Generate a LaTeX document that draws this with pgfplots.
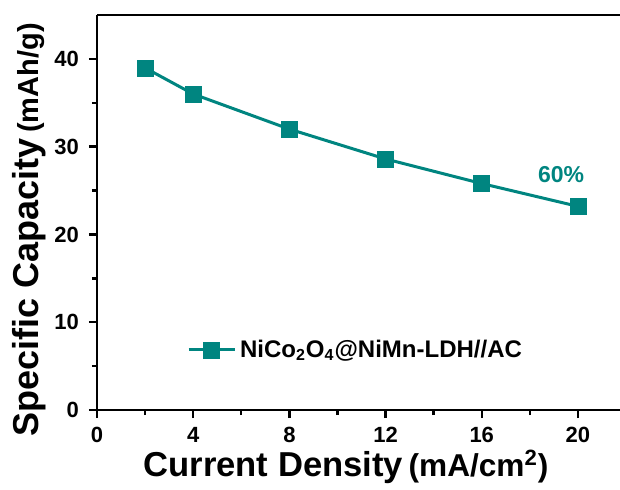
\documentclass[border=0pt]{standalone}
\usepackage{fontspec}
\setmainfont{Liberation Sans}
\usepackage{pgfplots}
\pgfplotsset{compat=1.18}
\definecolor{tealc}{RGB}{0,133,128}

\begin{document}
\begin{tikzpicture}
\useasboundingbox (-48.5pt,-39.5pt) rectangle (261.5pt,205pt);
\begin{axis}[
  scale only axis,
  width=261.5pt, height=197.5pt,
  xmin=0, xmax=21.75, ymin=0, ymax=45,
  axis x line=box, axis y line=left,
  axis line style={-, line width=1.3pt},
  xtick={0,4,8,12,16,20}, ytick={0,10,20,30,40},
  minor xtick={2,6,10,14,18}, minor ytick={5,15,25,35},
  xtick pos=lower, ytick pos=left,
  tick align=outside,
  major tick length=4pt, minor tick length=2.5pt,
  every tick/.style={black, line width=1.2pt},
  /pgf/number format/assume math mode=true,
  ticklabel style={font=\fontsize{11}{13}\selectfont\bfseries},
  xticklabel style={yshift=-1pt},
  yticklabel style={xshift=-1.5pt},
  xlabel={{\fontsize{17.3}{20}\selectfont Current Density} {\fontsize{15.8}{17}\selectfont (mA/cm$^{\mathbf{2}}$)}},
  ylabel={{\fontsize{18}{20}\selectfont Specific Capacity} {\fontsize{14.5}{17}\selectfont (mAh/g)}},
  xlabel style={font=\bfseries, at={(axis description cs:0.476,0)}, anchor=center, yshift=-28.5pt},
  ylabel style={font=\bfseries, at={(axis description cs:0,0.456)}, anchor=center, yshift=34pt},
  legend style={draw=none, fill=none, at={(0.16,0.152)}, anchor=west,
    font=\fontsize{12}{14}\selectfont\bfseries},
  legend cell align=left,
  legend image code/.code={\draw[mark repeat=2,mark phase=2,#1] plot coordinates {(0pt,0pt) (11.5pt,0pt) (23pt,0pt)};},
]
\addplot[color=tealc, line width=1.5pt, mark=square*, mark size=4pt,
  mark options={fill=tealc, draw=tealc, line width=0.3pt}]
  coordinates {(2,38.97) (4,36.0) (8,32.0) (12,28.6) (16,25.8) (20,23.2)};
\legend{NiCo\textsubscript{2}O\textsubscript{4}@NiMn-LDH//AC}
\node[text=tealc, font=\fontsize{11.5}{13}\selectfont\bfseries] at (axis cs:19.3,26.8) {60\%};
\end{axis}
\end{tikzpicture}
\end{document}
